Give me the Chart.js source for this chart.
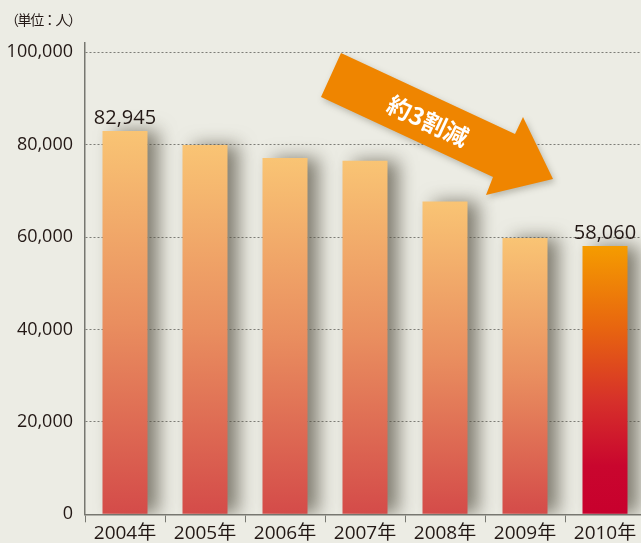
<!DOCTYPE html>
<html lang="ja">
<head>
<meta charset="utf-8">
<script src="https://cdn.jsdelivr.net/npm/chart.js@4"></script>
<style>
  html, body { margin: 0; padding: 0; background: #ecece4; overflow: hidden; width: 641px; height: 543px; }
  #wrap { position: relative; width: 641px; height: 543px; overflow: hidden; }
  canvas { position: absolute; left: 0; top: 0; }
  #unit { position: absolute; left: 5px; top: 9px; font-family: "Noto Sans CJK JP", sans-serif; font-size: 14px; color: #231815; letter-spacing: -1.4px; }
</style>
</head>
<body>
<div id="wrap">
  <canvas id="c" width="645" height="543"></canvas>
  <div id="unit">（単位：人）</div>
</div>
<script>
const categories = ["2004年", "2005年", "2006年", "2007年", "2008年", "2009年", "2010年"];
const people = [82945, 79900, 77100, 76500, 67700, 59800, 58060];
const valueLabels = ["82,945", "", "", "", "", "", "58,060"];
const yTicks = [0, 20000, 40000, 60000, 80000, 100000];
const arrowText = "約3割減";

const FONT = '"Open Sans", "Noto Sans CJK JP", sans-serif';

function barColor(c) {
  const chart = c.chart;
  const y = chart.scales && chart.scales.y;
  if (!y || c.type !== 'data') return '#e88e5f';
  const top = y.getPixelForValue(c.raw);
  const base = y.getPixelForValue(0);
  if (!isFinite(top) || !isFinite(base) || base === top) return '#e88e5f';
  const g = chart.ctx.createLinearGradient(0, top, 0, base);
  if (c.dataIndex === categories.length - 1) {
    g.addColorStop(0, '#f59c00');
    g.addColorStop(0.3, '#e8660f');
    g.addColorStop(0.58, '#d6302a');
    g.addColorStop(0.82, '#c9062e');
    g.addColorStop(1, '#c8002d');
  } else {
    g.addColorStop(0, '#f9c474');
    g.addColorStop(0.5, '#e98e5f');
    g.addColorStop(1, '#d44b49');
  }
  return g;
}

const shadowPlugin = {
  id: 'barShadow',
  beforeDatasetsDraw(chart) {
    const ctx = chart.ctx;
    ctx.save();
    ctx.shadowColor = 'rgba(85, 80, 65, 0.7)';
    ctx.shadowBlur = 18;
    ctx.shadowOffsetX = 11;
    ctx.shadowOffsetY = 0;
  },
  afterDatasetsDraw(chart) {
    chart.ctx.restore();
  }
};

const decoPlugin = {
  id: 'deco',
  afterDraw(chart) {
    const ctx = chart.ctx;
    const meta = chart.getDatasetMeta(0);
    ctx.save();
    ctx.font = '20px ' + FONT;
    ctx.fillStyle = '#231815';
    ctx.textAlign = 'center';
    ctx.textBaseline = 'bottom';
    meta.data.forEach((bar, i) => {
      if (valueLabels[i]) ctx.fillText(valueLabels[i], bar.x, bar.y - 3);
    });
    ctx.restore();

    // arrow annotation
    ctx.save();
    ctx.shadowColor = 'rgba(90, 85, 70, 0.35)';
    ctx.shadowBlur = 6;
    ctx.shadowOffsetX = 2;
    ctx.shadowOffsetY = 3;
    ctx.fillStyle = '#ef8500';
    ctx.beginPath();
    ctx.moveTo(341, 53);
    ctx.lineTo(515, 134);
    ctx.lineTo(523, 117);
    ctx.lineTo(553, 179);
    ctx.lineTo(486, 195);
    ctx.lineTo(493, 177);
    ctx.lineTo(321, 97);
    ctx.closePath();
    ctx.fill();
    ctx.restore();

    ctx.save();
    ctx.translate(428, 121);
    ctx.rotate(Math.atan2(81, 174));
    ctx.font = 'bold 24px "Noto Sans CJK JP", sans-serif';
    ctx.fillStyle = '#ffffff';
    ctx.textAlign = 'center';
    ctx.textBaseline = 'middle';
    ctx.fillText(arrowText, 0, 0);
    ctx.restore();
  }
};

new Chart(document.getElementById('c'), {
  type: 'bar',
  data: {
    labels: categories,
    datasets: [{
      data: people,
      backgroundColor: barColor,
      borderWidth: 0,
      categoryPercentage: 1,
      barPercentage: 0.5625
    }]
  },
  options: {
    responsive: false,
    animation: false,
    devicePixelRatio: 1,
    layout: { padding: { top: 43, right: 0, left: 0, bottom: 0 } },
    plugins: { legend: { display: false }, tooltip: { enabled: false } },
    scales: {
      x: {
        afterFit(scale) { scale.height = 28.7; },
        grid: { drawOnChartArea: false, drawTicks: true, tickLength: 8, tickColor: '#777770', tickWidth: 1, offset: true },
        border: { display: true, color: '#777770', width: 1.5 },
        ticks: { color: '#231815', font: { family: FONT, size: 19 }, padding: 0, maxRotation: 0 }
      },
      y: {
        min: 0,
        max: 102000,
        afterFit(scale) { scale.width = 85; },
        afterBuildTicks(scale) { scale.ticks = yTicks.map(v => ({ value: v })); },
        ticks: {
          autoSkip: false,
          color: '#231815',
          padding: 12,
          font: { family: FONT, size: 18 },
          callback: (v) => String(v).replace(/\B(?=(\d{3})+(?!\d))/g, ',')
        },
        grid: { drawTicks: false, color: '#7d7d77', lineWidth: 1 },
        border: { display: true, color: '#777770', width: 1.5, dash: [2, 2] }
      }
    }
  },
  plugins: [shadowPlugin, decoPlugin]
});
</script>
</body>
</html>
